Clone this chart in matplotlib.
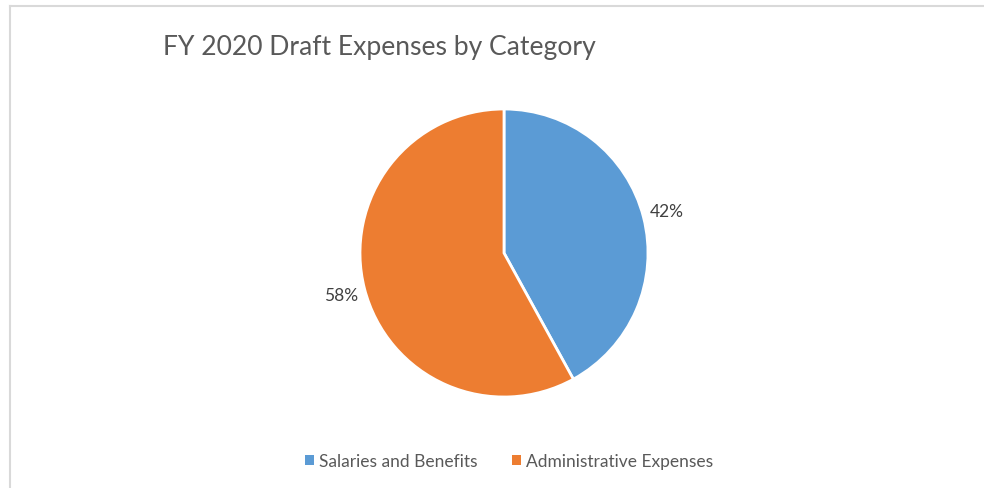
import matplotlib.pyplot as plt
from matplotlib.lines import Line2D
from matplotlib.patches import Patch

categories = ['Salaries and Benefits', 'Administrative Expenses']
shares = [42, 58]
colors = ['#5B9BD5', '#ED7D31']

plt.rcParams['font.family'] = ['Lato', 'DejaVu Sans']

fig = plt.figure(figsize=(9.84, 4.89), dpi=100)
W, H = 984, 489

# light chart-area border (top and left edges only show)
fig.add_artist(Line2D([9.5 / W, 9.5 / W], [0, 1 - 7 / H], color='#D9D9D9', lw=1.5))
fig.add_artist(Line2D([9.5 / W, 1], [1 - 7 / H, 1 - 7 / H], color='#D9D9D9', lw=1.5))

cx, cy, r = 504, 254, 144
ax = fig.add_axes([(cx - r) / W, (H - cy - r) / H, 2 * r / W, 2 * r / H])
wedges, texts, autotexts = ax.pie(
    shares, colors=colors, startangle=90, counterclock=False,
    autopct='%1.0f%%', pctdistance=1.17, radius=1,
    wedgeprops=dict(edgecolor='white', linewidth=2),
    textprops=dict(color='#404040', fontsize=12.5))
ax.set_xlim(-1, 1)
ax.set_ylim(-1, 1)
ax.set_aspect('equal')
ax.axis('off')

fig.text(163 / W, 1 - 48 / H, 'FY 2020 Draft Expenses by Category',
         fontsize=19.1, color='#595959', va='center', ha='left')

handles = [Patch(facecolor=c, edgecolor='none') for c in colors]
fig.legend(handles, categories, loc='center', bbox_to_anchor=(509 / W, 1 - 462 / H),
           ncol=2, frameon=False, fontsize=12.5, handlelength=0.5, handleheight=0.5,
           handletextpad=0.3, columnspacing=2.0, labelcolor='#595959')

fig.savefig('out.png', dpi=100)
